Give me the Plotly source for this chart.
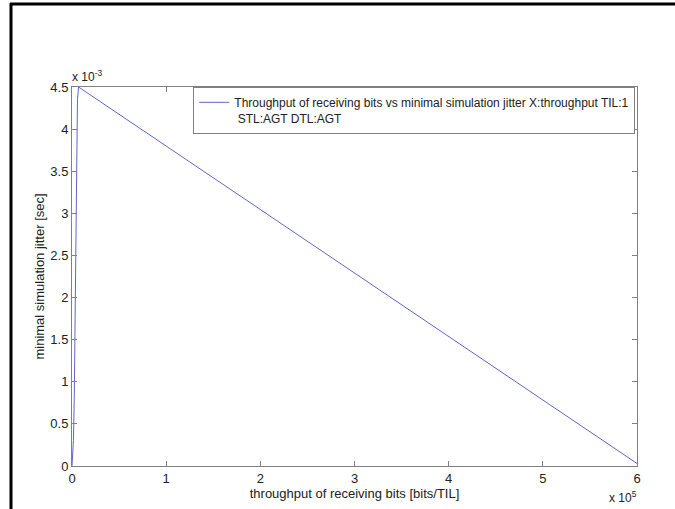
import plotly.graph_objects as go

# data (throughput in bits/TIL, jitter in seconds)
throughput = [0, 1500, 2400, 4000, 5800, 7000, 600000]
jitter = [0.0, 0.0003, 0.0008, 0.0025, 0.00435, 0.0045, 0.00003]

x_ticks = [0, 1e5, 2e5, 3e5, 4e5, 5e5, 6e5]
x_tick_text = ["0", "1", "2", "3", "4", "5", "6"]
y_ticks = [0, 0.5e-3, 1e-3, 1.5e-3, 2e-3, 2.5e-3, 3e-3, 3.5e-3, 4e-3, 4.5e-3]
y_tick_text = ["0", "0.5", "1", "1.5", "2", "2.5", "3", "3.5", "4", "4.5"]

legend_name = ("Throughput of receiving bits vs minimal simulation jitter X:throughput TIL:1"
               "<br>&nbsp;STL:AGT DTL:AGT")

FONT = "Liberation Sans, Arial, sans-serif"
L, R, T, B = 72, 38, 87, 43
W, H = 675, 509
pw, ph = W - L - R, H - T - B

fig = go.Figure()
fig.add_trace(go.Scatter(
    x=throughput, y=jitter, mode="lines", name=legend_name,
    line=dict(color="#6464c8", width=1), showlegend=True,
))

axis_common = dict(
    showline=True, linecolor="#808080", linewidth=1, mirror="ticks",
    ticks="inside", ticklen=5, tickcolor="#808080", showgrid=False, zeroline=False,
    tickfont=dict(family=FONT, size=13, color="#222"),
)
fig.update_xaxes(range=[0, 6e5], tickvals=x_ticks, ticktext=x_tick_text,
                 title=dict(text="throughput of receiving bits [bits/TIL]", standoff=3,
                            font=dict(family=FONT, size=13, color="#222")),
                 **axis_common)
fig.update_yaxes(range=[0, 4.5e-3], tickvals=y_ticks, ticktext=y_tick_text,
                 title=dict(text="minimal simulation jitter [sec]", standoff=2,
                            font=dict(family=FONT, size=13, color="#222")),
                 **axis_common)

def px(xp):
    return (xp - L) / pw

def py(yp):
    return (H - B - yp) / ph

fig.update_layout(
    width=W, height=H, autosize=False,
    margin=dict(l=L, r=R, t=T, b=B, pad=0),
    paper_bgcolor="white", plot_bgcolor="white",
    font=dict(family=FONT, size=12, color="#222"),
    legend=dict(x=0.997, xanchor="right", y=1, yanchor="top",
                bgcolor="white", bordercolor="#808080", borderwidth=1,
                font=dict(family=FONT, size=12, color="#222"),
                itemwidth=30, tracegroupgap=0, valign="top"),
    annotations=[
        dict(text="x 10<sup>-3</sup>", xref="paper", yref="paper", x=-0.004, y=1,
             xanchor="left", yanchor="bottom", showarrow=False, yshift=1,
             font=dict(family=FONT, size=12, color="#222")),
        dict(text="x 10<sup>5</sup>", xref="paper", yref="paper", x=1.003, y=py(497),
             xanchor="right", yanchor="middle", showarrow=False,
             font=dict(family=FONT, size=12, color="#222")),
    ],
    shapes=[
        dict(type="line", xref="paper", yref="paper", x0=px(11), x1=px(11),
             y0=py(3), y1=py(520), line=dict(color="black", width=3)),
        dict(type="line", xref="paper", yref="paper", x0=px(10), x1=px(690),
             y0=py(4), y1=py(4), line=dict(color="black", width=3)),
    ],
)

fig.write_html("out.html")
